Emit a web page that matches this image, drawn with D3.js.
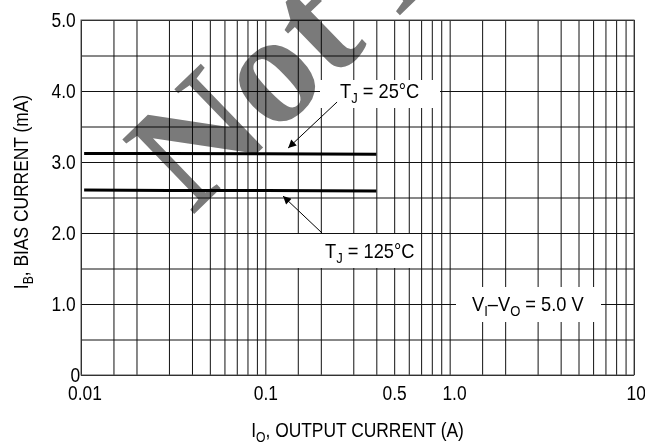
<!DOCTYPE html>
<html>
<head>
<meta charset="utf-8">
<script src="https://cdn.jsdelivr.net/npm/d3@7/dist/d3.min.js"></script>
<style>
  body { margin: 0; background: #fff; }
  svg text { font-family: "Liberation Sans", Arial, sans-serif; fill: #000; }
</style>
</head>
<body>
<svg id="chart"></svg>
<script>
// bias current vs output current, two junction temperatures
var tj25X = [0.0104, 0.03, 0.1, 0.4];
var tj25Y = [3.12, 3.12, 3.115, 3.11];
var tj125X = [0.0104, 0.03, 0.1, 0.4];
var tj125Y = [2.605, 2.6, 2.6, 2.59];

var xGrid = [0.01, 0.015, 0.02, 0.03, 0.04, 0.05, 0.06, 0.07, 0.08, 0.09,
             0.1, 0.15, 0.2, 0.3, 0.4, 0.5, 0.6, 0.7, 0.8, 0.9,
             1, 1.5, 2, 3, 4, 5, 6, 7, 8, 9, 10];
var yGrid = [0, 0.5, 1, 1.5, 2, 2.5, 3, 3.5, 4, 4.5, 5];
var xTickVals = [0.01, 0.1, 0.5, 1, 10];
var xTickText = ["0.01", "0.1", "0.5", "1.0", "10"];
var yTickVals = [0, 1, 2, 3, 4, 5];
var yTickText = ["0", "1.0", "2.0", "3.0", "4.0", "5.0"];

var width = 645,
    height = 444,
    pLeft = 81, pRight = 634, pTop = 20, pBottom = 375,
    squeeze = 0.87;   // the original lettering is a condensed face

var x = d3.scaleLog().domain([0.01, 10]).range([pLeft, pRight]);
var y = d3.scaleLinear().domain([0, 5]).range([pBottom, pTop]);

var svg = d3.select("#chart")
    .attr("width", width)
    .attr("height", height);

svg.append("rect").attr("width", width).attr("height", height).attr("fill", "#fff");

// grid
var gx = svg.append("g")
    .attr("transform", "translate(0," + pBottom + ")")
    .call(d3.axisBottom(x).tickValues(xGrid).tickSize(-(pBottom - pTop)).tickFormat(""));
var gy = svg.append("g")
    .attr("transform", "translate(" + pLeft + ",0)")
    .call(d3.axisLeft(y).tickValues(yGrid).tickSize(-(pRight - pLeft)).tickFormat(""));
[gx, gy].forEach(function(g) {
    g.select(".domain").remove();
    g.selectAll(".tick line").attr("stroke", "#111").attr("stroke-width", 1);
});

svg.append("rect")
    .attr("x", pLeft).attr("y", pTop)
    .attr("width", pRight - pLeft).attr("height", pBottom - pTop)
    .attr("fill", "none").attr("stroke", "#555").attr("stroke-width", 1);

// white boxes behind the annotations
var boxes = [[320, 80, 120, 28], [296, 234, 124, 34], [456, 287, 145, 35]];
svg.selectAll(".box").data(boxes).enter().append("rect")
    .attr("class", "box")
    .attr("x", function(d) { return d[0]; })
    .attr("y", function(d) { return d[1]; })
    .attr("width", function(d) { return d[2]; })
    .attr("height", function(d) { return d[3]; })
    .attr("fill", "#fff");

// watermark
svg.append("text")
    .attr("transform", "translate(192,216) rotate(-44)")
    .style("font-family", "'Liberation Serif', 'Times New Roman', serif")
    .style("font-weight", "bold")
    .style("font-size", "158px")
    .style("fill", "#7a7a7a")
    .style("mix-blend-mode", "multiply")
    .text("Not Recommended");

// curves
var line = d3.line()
    .x(function(d) { return x(d[0]); })
    .y(function(d) { return y(d[1]); });

[[tj25X, tj25Y], [tj125X, tj125Y]].forEach(function(s) {
    svg.append("path")
        .datum(d3.zip(s[0], s[1]))
        .attr("d", line)
        .attr("fill", "none")
        .attr("stroke", "#000")
        .attr("stroke-width", 3);
});

// tick labels
var ax = svg.append("g")
    .attr("transform", "translate(0," + pBottom + ")")
    .call(d3.axisBottom(x).tickValues(xTickVals).tickSize(0).tickPadding(11)
        .tickFormat(function(d, i) { return xTickText[i]; }));
ax.select(".domain").remove();
ax.selectAll("text")
    .style("font-size", "20px")
    .attr("x", function(d, i) { return [4, 0, 0, 5, 2][i]; })
    .attr("transform", "scale(" + squeeze + ",1)");

var ay = svg.append("g")
    .attr("transform", "translate(" + pLeft + ",0)")
    .call(d3.axisLeft(y).tickValues(yTickVals).tickSize(0)
        .tickFormat(function(d, i) { return yTickText[i]; }));
ay.select(".domain").remove();
ay.selectAll("text")
    .style("font-size", "20px")
    .attr("x", function(d, i) { return i == 0 ? -1 : -6; })
    .attr("transform", "scale(" + squeeze + ",1)");

// text with subscripts, squeezed horizontally
function subText(px, py, anchor, size, parts, rot) {
    var g = svg.append("g")
        .attr("transform", "translate(" + px + "," + py + ")" + (rot ? " rotate(" + rot + ")" : "") +
              " scale(" + squeeze + ",1)");
    var t = g.append("text").attr("text-anchor", anchor).style("font-size", size + "px");
    var low = false;
    parts.forEach(function(p, i) {
        var sub = i % 2 == 1;
        var ts = t.append("tspan").text(p);
        if (sub) {
            ts.attr("dy", 5).style("font-size", Math.round(size * 0.7) + "px");
            low = true;
        } else if (low) {
            ts.attr("dy", -5);
            low = false;
        }
    });
    return t;
}

subText((pLeft + pRight) / 2, 437, "middle", 20, ["I", "O", ", OUTPUT CURRENT (A)"]);
subText(28, 192, "middle", 20, ["I", "B", ", BIAS CURRENT (mA)"], -90);

// annotations
svg.append("defs").append("marker")
    .attr("id", "head")
    .attr("viewBox", "0 0 10 10")
    .attr("refX", 10).attr("refY", 5)
    .attr("markerWidth", 11).attr("markerHeight", 8)
    .attr("markerUnits", "userSpaceOnUse")
    .attr("orient", "auto")
  .append("path")
    .attr("d", "M0,0L10,5L0,10z")
    .attr("fill", "#000");

var arrows = [[0.245, 3.845, 0.133, 3.197], [0.203, 2.0, 0.1247, 2.52]];
arrows.forEach(function(a) {
    svg.append("line")
        .attr("x1", x(a[0])).attr("y1", y(a[1]))
        .attr("x2", x(a[2])).attr("y2", y(a[3]))
        .attr("stroke", "#000").attr("stroke-width", 1)
        .attr("marker-end", "url(#head)");
});

subText(340, 98, "start", 21, ["T", "J", " = 25\u00B0C"]);
subText(325, 258, "start", 21, ["T", "J", " = 125\u00B0C"]);
subText(472, 311, "start", 21, ["V", "I", "\u2013V", "O", " = 5.0 V"]);
</script>
</body>
</html>
